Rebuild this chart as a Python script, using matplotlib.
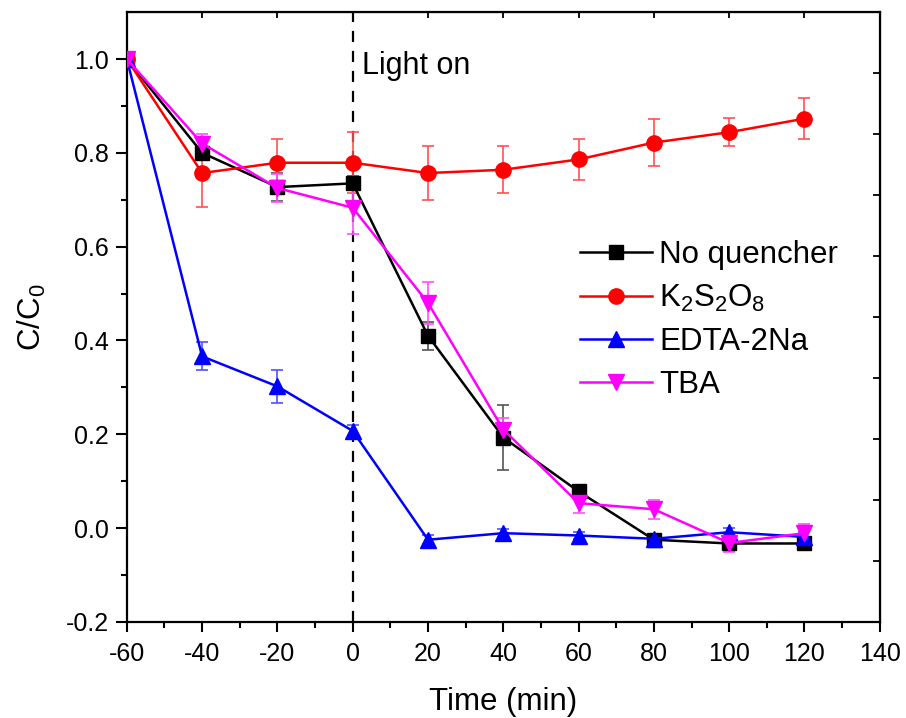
import matplotlib
matplotlib.use("Agg")
import matplotlib.pyplot as plt
import numpy as np

plt.rcParams['font.family'] = ['Liberation Sans', 'DejaVu Sans']
plt.rcParams['mathtext.fontset'] = 'custom'
plt.rcParams['mathtext.rm'] = 'Liberation Sans'
plt.rcParams['mathtext.it'] = 'Liberation Sans'
plt.rcParams['axes.unicode_minus'] = False

# time points (min)
time = [-60, -40, -20, 0, 20, 40, 60, 80, 100, 120]

# C/C0 for each quencher, with error bars
no_quencher = [1.0, 0.80, 0.727, 0.735, 0.41, 0.193, 0.078, -0.025, -0.033, -0.033]
no_quencher_err = [0.0, 0.01, 0.03, 0.015, 0.03, 0.07, 0.01, 0.01, 0.01, 0.01]

k2s2o8 = [1.0, 0.757, 0.779, 0.779, 0.757, 0.764, 0.786, 0.822, 0.844, 0.873]
k2s2o8_err = [0.0, 0.072, 0.05, 0.065, 0.058, 0.05, 0.043, 0.05, 0.03, 0.043]

edta = [1.0, 0.366, 0.302, 0.207, -0.025, -0.011, -0.016, -0.023, -0.009, -0.019]
edta_err = [0.0, 0.03, 0.036, 0.012, 0.01, 0.008, 0.008, 0.008, 0.01, 0.01]

tba = [1.0, 0.82, 0.725, 0.683, 0.48, 0.21, 0.053, 0.04, -0.032, -0.011]
tba_err = [0.0, 0.02, 0.03, 0.055, 0.045, 0.025, 0.02, 0.02, 0.02, 0.02]

labels = ['No quencher', 'K$_2$S$_2$O$_8$', 'EDTA-2Na', 'TBA']
colors = ['black', 'red', 'blue', 'magenta']
ecolors = ['#555555', '#ff5050', '#5050ff', '#ff50ff']
markers = ['s', 'o', '^', 'v']
msizes = [9.5, 11, 11.5, 11.5]

fig = plt.figure(figsize=(9.06, 7.18), dpi=100)
ax = fig.add_axes([0.140, 0.134, 0.831, 0.849])

series = [(no_quencher, no_quencher_err), (k2s2o8, k2s2o8_err),
          (edta, edta_err), (tba, tba_err)]
for (y, e), lab, c, ec, m, ms in zip(series, labels, colors, ecolors, markers, msizes):
    ax.errorbar(time, y, yerr=e, fmt='none', ecolor=ec, elinewidth=1.2,
                capsize=4.5, capthick=1.2, zorder=2)
    ax.plot(time, y, color=c, marker=m, markersize=ms, linewidth=1.8,
            label=lab, zorder=3)

ax.axvline(0, color='black', linestyle=(0, (5, 4)), linewidth=1.6, zorder=1)
ax.text(2.4, 0.985, 'Light on', fontsize=22, ha='left', va='center')

ax.set_xlim(-60, 140)
ax.set_ylim(-0.2, 1.1)
ax.set_xticks(np.arange(-60, 141, 20))
ax.set_xticks(np.arange(-50, 140, 20), minor=True)
ax.set_yticks(np.arange(-0.2, 1.01, 0.2))
ax.set_yticks(np.arange(-0.1, 1.01, 0.2), minor=True)
ax.set_yticklabels(['%.1f' % v for v in np.arange(-0.2, 1.01, 0.2)])
ax.tick_params(which='major', direction='out', width=1.5, labelsize=18)
ax.tick_params(which='minor', direction='out', length=4.5, width=1.5)
ax.tick_params(axis='x', which='major', length=7.5, pad=7)
ax.tick_params(axis='y', which='major', length=8, pad=5)
for s in ax.spines.values():
    s.set_linewidth(1.6)

# mirrored ticks on top and right, inward
top = ax.secondary_xaxis('top')
top.set_xticks(np.arange(-60, 141, 20))
top.tick_params(direction='in', length=4, width=1.3, labeltop=False)
right = ax.secondary_yaxis('right', functions=(lambda v: (v + 0.2) / 0.13,
                                               lambda v: v * 0.13 - 0.2))
right.set_yticks(np.arange(0, 11, 1))
right.tick_params(direction='in', length=5, width=1.3, labelright=False)

ax.set_xlabel('Time (min)', fontsize=22.5, labelpad=15)
ax.set_ylabel('C/C$_0$', fontsize=22.5, labelpad=13)

ax.legend(loc='upper left', bbox_to_anchor=(0.585, 0.647), frameon=False,
          fontsize=22.5, handlelength=2.3, labelspacing=0.42, handletextpad=0.25,
          borderaxespad=0)

fig.savefig('out.png', dpi=100)
